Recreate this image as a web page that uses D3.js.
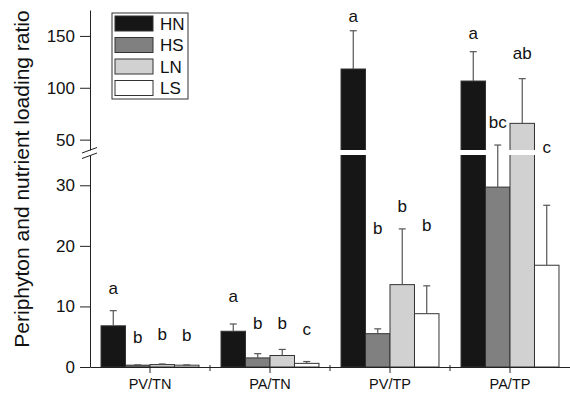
<!DOCTYPE html>
<html>
<head>
<meta charset="utf-8">
<script src="https://cdn.jsdelivr.net/npm/d3@7"></script>
<style>
  body { margin: 0; background: #fff; }
  text { font-family: "Liberation Sans", Arial, sans-serif; fill: #111; }
</style>
</head>
<body>
<div id="chart"></div>
<script>
var categories = ["PV/TN", "PA/TN", "PV/TP", "PA/TP"];
var series = ["HN", "HS", "LN", "LS"];
var colors = ["#161616", "#808080", "#d0d1d0", "#ffffff"];

// means and standard errors per series, in category order
var HN = [6.8, 5.9, 118.1, 106.5];
var HS = [0.3, 1.5, 5.5, 29.7];
var LN = [0.4, 1.9, 13.6, 65.7];
var LS = [0.3, 0.6, 8.8, 16.8];
var HN_se = [2.5, 1.2, 36.9, 28.3];
var HS_se = [0.05, 0.7, 0.8, 15.1];
var LN_se = [0.1, 1.0, 9.2, 43.1];
var LS_se = [0.05, 0.3, 4.6, 9.9];

// significance letters and the height (data units) they sit at
var HN_letter = ["a", "a", "a", "a"];
var HS_letter = ["b", "b", "b", "bc"];
var LN_letter = ["b", "b", "b", "ab"];
var LS_letter = ["b", "c", "b", "c"];
var HN_letterAt = [13.0, 11.7, 169, 153];
var HS_letterAt = [5.0, 7.2, 22.9, 67.3];
var LN_letterAt = [5.4, 7.25, 26.5, 133.5];
var LS_letterAt = [5.2, 6.2, 23.4, 43.2];

var lowTicks = [0, 10, 20, 30];
var highTicks = [50, 100, 150];

var means = [HN, HS, LN, LS];
var ses = [HN_se, HS_se, LN_se, LS_se];
var letters = [HN_letter, HS_letter, LN_letter, LS_letter];
var letterAt = [HN_letterAt, HS_letterAt, LN_letterAt, LS_letterAt];

var width = 570, height = 394;
var left = 90, bottom = 367;

var svg = d3.select("#chart").append("svg")
    .attr("width", width)
    .attr("height", height);

var x = d3.scaleBand().domain(categories).range([left, 570]);
var x1 = d3.scaleBand().domain(series).range([0, x.bandwidth()])
    .paddingInner(0).paddingOuter(0.45);

// broken y axis: two segments
var yLow = d3.scaleLinear().domain([0, 35]).range([bottom, 155]);
var yHigh = d3.scaleLinear().domain([40, 175]).range([150, 10]);
function yPos(v) { return v <= 35 ? yLow(v) : yHigh(Math.max(v, 40)); }

var data = [];
series.forEach(function(s, i) {
    categories.forEach(function(c, j) {
        data.push({ s: s, c: c, color: colors[i], v: means[i][j], se: ses[i][j],
                    letter: letters[i][j], at: letterAt[i][j] });
    });
});

// bars
var bars = svg.append("g");
data.forEach(function(d) {
    var bx = x(d.c) + x1(d.s);
    bars.append("rect")
        .attr("x", bx).attr("width", x1.bandwidth())
        .attr("y", yPos(d.v)).attr("height", bottom - yPos(d.v))
        .attr("fill", d.color).attr("stroke", "#333").attr("stroke-width", 1);
    if (d.v > 35) {
        // white gap across the break
        bars.append("rect")
            .attr("x", bx - 1).attr("width", x1.bandwidth() + 2)
            .attr("y", yHigh(40)).attr("height", yLow(35) - yHigh(40))
            .attr("fill", "#fff");
    }
});

// error bars
var err = svg.append("g").attr("stroke", "#555").attr("stroke-width", 1.2);
data.forEach(function(d) {
    var cx = x(d.c) + x1(d.s) + x1.bandwidth() / 2;
    var top = yPos(d.v + d.se);
    err.append("line").attr("x1", cx).attr("x2", cx)
        .attr("y1", yPos(d.v)).attr("y2", top);
    err.append("line").attr("x1", cx - 3.5).attr("x2", cx + 3.5)
        .attr("y1", top).attr("y2", top);
});

// letters
svg.append("g").selectAll("text")
    .data(data)
    .join("text")
    .attr("x", function(d) { return x(d.c) + x1(d.s) + x1.bandwidth() / 2; })
    .attr("y", function(d) { return yPos(d.at); })
    .attr("dy", "0.35em")
    .attr("text-anchor", "middle")
    .style("font-size", "17px")
    .text(function(d) { return d.letter; });

// y axis, lower and upper segments
var axLow = svg.append("g")
    .attr("transform", "translate(" + left + ",0)")
    .call(d3.axisLeft(yLow).tickValues(lowTicks).tickSize(10).tickSizeOuter(0).tickPadding(5));
var axHigh = svg.append("g")
    .attr("transform", "translate(" + left + ",0)")
    .call(d3.axisLeft(yHigh).tickValues(highTicks).tickSize(10).tickSizeOuter(0).tickPadding(5));
[axLow, axHigh].forEach(function(a) {
    a.selectAll("text").style("font-size", "17px").style("font-family", "Liberation Sans, Arial, sans-serif");
    a.selectAll("path, line").attr("stroke", "#222");
});

// break marks
svg.append("g").attr("stroke", "#222").attr("stroke-width", 1)
    .selectAll("line")
    .data([yHigh(40) + 0.5, yLow(35) + 1])
    .join("line")
    .attr("x1", left - 8).attr("x2", left + 7)
    .attr("y1", function(d) { return d + 2.5; })
    .attr("y2", function(d) { return d - 3; });

// x axis
var axX = svg.append("g")
    .attr("transform", "translate(0," + bottom + ")")
    .call(d3.axisBottom(x).tickSize(6).tickSizeOuter(0).tickPadding(6));
axX.selectAll("text").style("font-size", "14.5px").style("font-family", "Liberation Sans, Arial, sans-serif");
axX.selectAll("path, line").attr("stroke", "#222");
axX.selectAll(".bnd")
    .data(categories.slice(1))
    .join("line")
    .attr("class", "bnd")
    .attr("stroke", "#222")
    .attr("x1", function(c) { return x(c); })
    .attr("x2", function(c) { return x(c); })
    .attr("y1", -2).attr("y2", 4);

// y title
svg.append("text")
    .attr("transform", "translate(22," + 179 + ") rotate(-90)")
    .attr("text-anchor", "middle")
    .attr("dy", "0.35em")
    .style("font-size", "21px")
    .text("Periphyton and nutrient loading ratio");

// legend
var legend = svg.append("g").attr("transform", "translate(112,13)");
legend.append("rect")
    .attr("width", 76).attr("height", 86)
    .attr("fill", "#fff").attr("stroke", "#333");
var item = legend.selectAll(".item")
    .data(series)
    .join("g")
    .attr("class", "item")
    .attr("transform", function(d, i) { return "translate(3," + (3 + i * 21.5) + ")"; });
item.append("rect")
    .attr("width", 38).attr("height", 15)
    .attr("fill", function(d, i) { return colors[i]; })
    .attr("stroke", "#333");
item.append("text")
    .attr("x", 45).attr("y", 7.5).attr("dy", "0.36em")
    .style("font-size", "17px")
    .text(function(d) { return d; });
</script>
</body>
</html>
